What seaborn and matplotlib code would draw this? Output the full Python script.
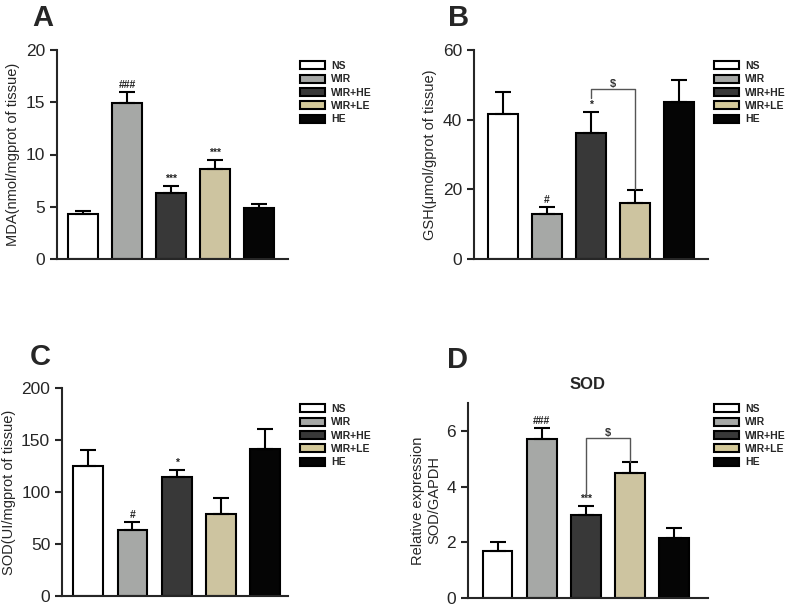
import numpy as np
import pandas as pd
import seaborn as sns
import matplotlib.pyplot as plt
from matplotlib.patches import Patch

groups = ["NS", "WIR", "WIR+HE", "WIR+LE", "HE"]
colors = ["#ffffff", "#a6a8a6", "#383838", "#d4c999", "#050505"]

mda = [4.3, 14.9, 6.3, 8.6, 4.9]
mda_err = [0.3, 1.1, 0.65, 0.9, 0.35]
mda_marks = ["", "###", "***", "***", ""]

gsh = [41.5, 12.8, 36.2, 16.2, 45.0]
gsh_err = [6.5, 2.2, 6.0, 3.6, 6.5]
gsh_marks = ["", "#", "*", "", ""]

sod = [125, 63, 114, 79, 141]
sod_err = [15, 8, 7, 15, 20]
sod_marks = ["", "#", "*", "", ""]

sod_rel = [1.7, 5.7, 2.97, 4.5, 2.15]
sod_rel_err = [0.3, 0.42, 0.35, 0.38, 0.37]
sod_rel_marks = ["", "###", "***", "", ""]

sns.set_style("ticks")
plt.rcParams["font.family"] = ["Liberation Sans", "DejaVu Sans"]

W, H = 790, 612
fig = plt.figure(figsize=(7.9, 6.12), dpi=100)


def px_axes(left, right, top, bottom):
    return fig.add_axes([left / W, 1 - bottom / H, (right - left) / W, (bottom - top) / H])


def panel(ax, vals, errs, marks, ylim, yticks, ylabel, xlim, mark_size=7.5):
    df = pd.DataFrame({"group": groups, "value": vals})
    sns.barplot(data=df, x="group", y="value", hue="group", palette=dict(zip(groups, colors)),
                order=groups, width=0.68, edgecolor="black", linewidth=1.5,
                errorbar=None, legend=False, ax=ax)
    x = np.arange(len(groups))
    ax.errorbar(x, vals, yerr=[np.zeros(len(vals)), errs], fmt="none", ecolor="black",
                elinewidth=1.5, capsize=6, capthick=1.5, zorder=1)
    span = ylim[1] - ylim[0]
    for i, m in enumerate(marks):
        if m:
            ax.text(x[i], vals[i] + errs[i] + span * 0.01, m, ha="center", va="bottom",
                    fontsize=mark_size, fontweight="bold", color="#222222")
    ax.set_ylim(*ylim)
    ax.set_yticks(yticks)
    ax.set_xlim(*xlim)
    ax.set_xlabel("")
    ax.set_ylabel(ylabel, fontsize=10.5)
    ax.set_xticks([])
    sns.despine(ax=ax)
    for s in ["left", "bottom"]:
        ax.spines[s].set_linewidth(1.5)
    ax.tick_params(axis="y", labelsize=12.5, width=1.5, length=5)
    handles = [Patch(facecolor=c, edgecolor="black", linewidth=1.5) for c in colors]
    return handles


def add_legend(ax, handles, x_px, y_px):
    ax.legend(handles, groups, loc="upper left", bbox_to_anchor=(x_px / W, 1 - y_px / H),
              bbox_transform=fig.transFigure, frameon=False, handlelength=2.4, handleheight=0.8,
              labelspacing=0.32, handletextpad=0.6, borderaxespad=0, borderpad=0,
              prop={"size": 7.5, "weight": "bold"})


def bracket(ax, x0, x1, y, y0, y1, label):
    ax.plot([x0, x0, x1, x1], [y0, y, y, y1], color="#555555", linewidth=1.0, zorder=3)
    ax.text((x0 + x1) / 2, y, label, ha="center", va="bottom", fontsize=8, fontweight="bold",
            color="#333333")


# A
axA = px_axes(57, 288, 50, 259)
h = panel(axA, mda, mda_err, mda_marks, (0, 20), [0, 5, 10, 15, 20],
          "MDA(nmol/mgprot of tissue)", (-0.59, 4.66))
add_legend(axA, h, 300, 61)
fig.text(32 / W, 1 - 18 / H, "A", fontsize=21, fontweight="bold", va="center")

# B
axB = px_axes(474, 708, 50, 259)
h = panel(axB, gsh, gsh_err, gsh_marks, (0, 60), [0, 20, 40, 60],
          "GSH(\u03bcmol/gprot of tissue)", (-0.66, 4.66))
bracket(axB, 2, 3, 48.8, 46.3, 20.0, "$")
add_legend(axB, h, 714, 61)
fig.text(448 / W, 1 - 18 / H, "B", fontsize=21, fontweight="bold", va="center")

# C
axC = px_axes(62, 288, 388, 596)
h = panel(axC, sod, sod_err, sod_marks, (0, 200), [0, 50, 100, 150, 200],
          "SOD(UI/mgprot of tissue)", (-0.6, 4.53))
add_legend(axC, h, 300, 404)
fig.text(30 / W, 1 - 357 / H, "C", fontsize=21, fontweight="bold", va="center")

# D
axD = px_axes(468, 708, 403, 598)
h = panel(axD, sod_rel, sod_rel_err, sod_rel_marks, (0, 7), [0, 2, 4, 6],
          "Relative expression\nSOD/GAPDH", (-0.67, 4.78))
bracket(axD, 2, 3, 5.76, 3.65, 4.88, "$")
axD.set_title("SOD", fontsize=12, fontweight="bold", pad=10)
add_legend(axD, h, 714, 404)
fig.text(447 / W, 1 - 360 / H, "D", fontsize=21, fontweight="bold", va="center")

fig.savefig("out.png", dpi=100)
